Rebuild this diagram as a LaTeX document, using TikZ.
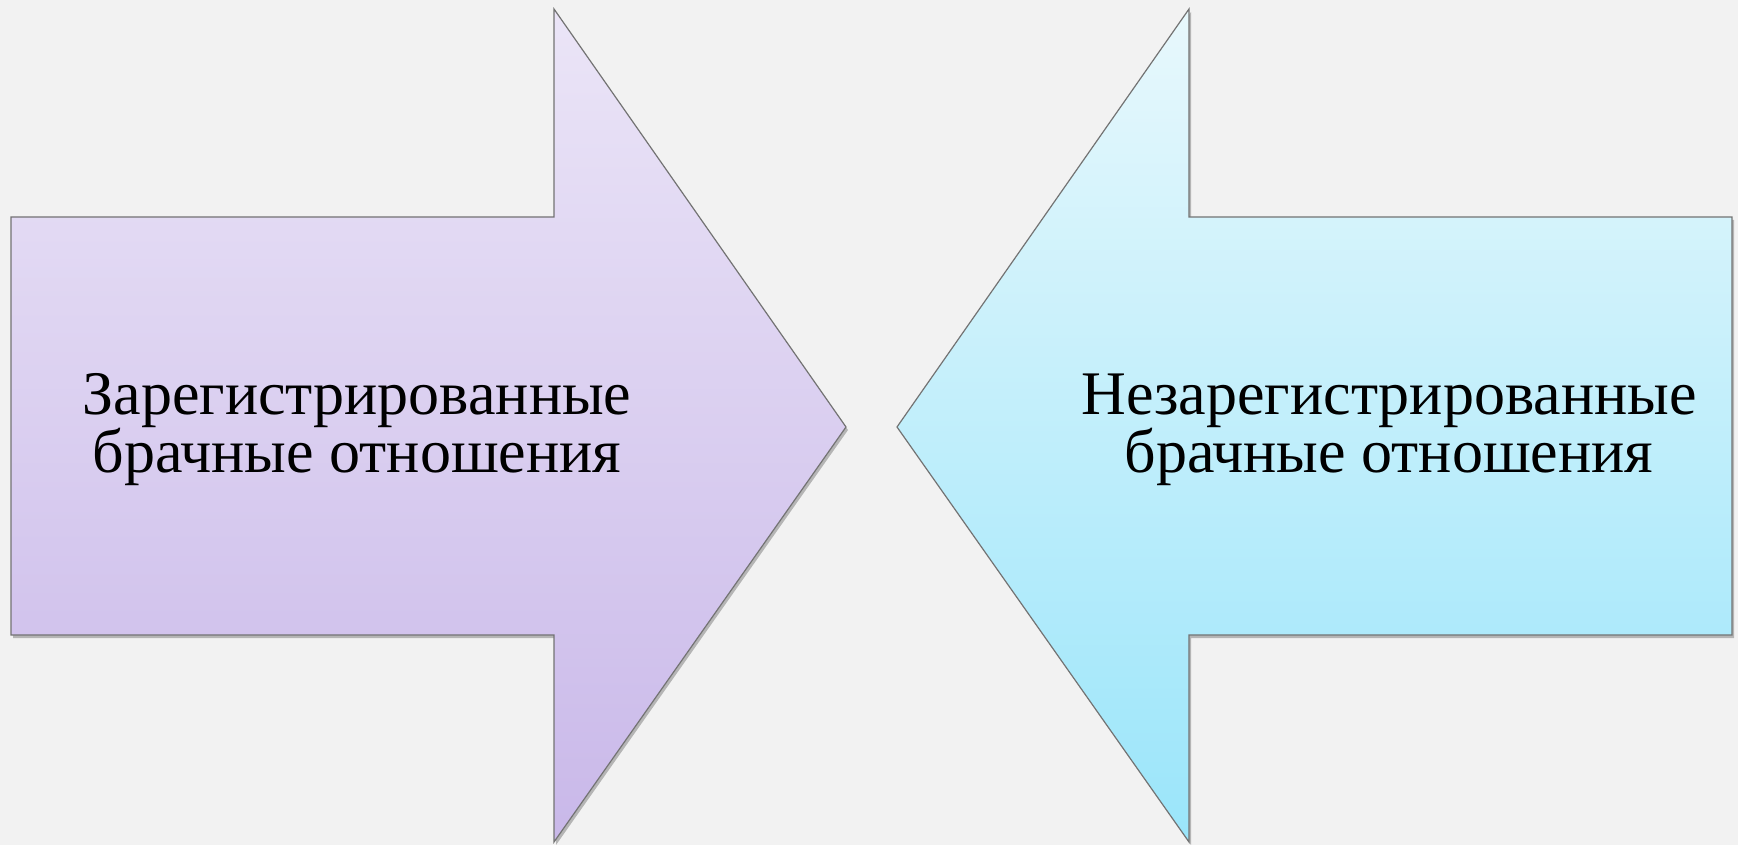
\documentclass[tikz,border=0pt]{standalone}
\usepackage{fontspec}
\setmainfont{Liberation Serif}
\usetikzlibrary{shadows}

\definecolor{bgcol}{HTML}{F2F2F2}
\definecolor{lilactop}{HTML}{EBE5F7}
\definecolor{lilacbot}{HTML}{C9B8E9}
\definecolor{cyantop}{HTML}{E8F8FC}
\definecolor{cyanbot}{HTML}{9AE5FA}

\begin{document}
\begin{tikzpicture}[x=1pt,y=-1pt,
  arrowshape/.style={draw=black!55, line width=1.2pt,
    drop shadow={shadow xshift=2pt, shadow yshift=-3pt, opacity=0.25, fill=black}},
  caption/.style={font=\fontsize{62}{58}\selectfont, align=center, inner sep=0pt}]

  \fill[bgcol] (0,0) rectangle (1738,845);
  \useasboundingbox (0,0) rectangle (1738,845);

  % left arrow, pointing right
  \path[arrowshape, top color=lilactop, bottom color=lilacbot]
    (11,217) -- (554,217) -- (554,9) -- (846,427) -- (554,842) -- (554,635) -- (11,635) -- cycle;
  % right arrow, pointing left
  \path[arrowshape, top color=cyantop, bottom color=cyanbot]
    (1732,217) -- (1189,217) -- (1189,9) -- (897,427) -- (1189,842) -- (1189,635) -- (1732,635) -- cycle;

  \node[caption] (reg)   at (357,430) {Зарегистрированные\\брачные отношения};
  \node[caption] (unreg) at (1389,430) {Незарегистрированные\\брачные отношения};

\end{tikzpicture}
\end{document}
